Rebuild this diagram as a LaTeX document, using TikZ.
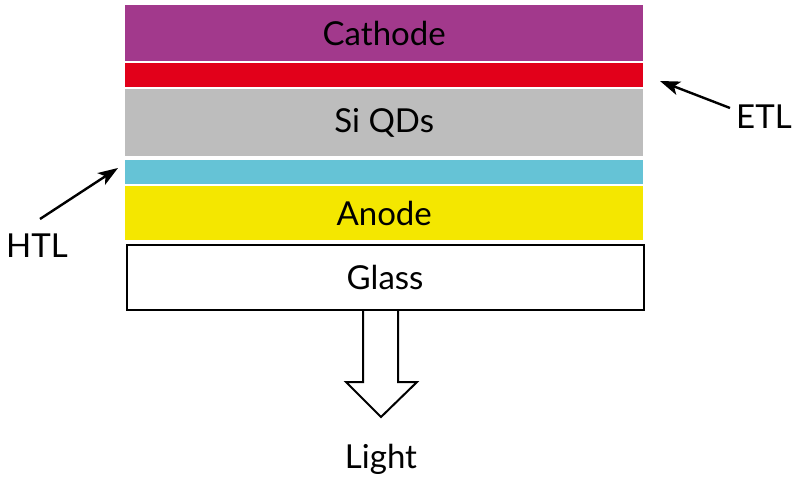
\documentclass[tikz,border=0pt]{standalone}
\usepackage{fontspec}
\setmainfont{Lato}
\usetikzlibrary{arrows.meta}
\definecolor{cathc}{HTML}{A2398C}
\definecolor{etlc}{HTML}{E2001A}
\definecolor{qdc}{HTML}{BDBDBD}
\definecolor{htlc}{HTML}{65C3D6}
\definecolor{anoc}{HTML}{F4E700}
\begin{document}
\begin{tikzpicture}[x=1pt,y=-1pt,
  layer/.style={inner sep=0pt, anchor=north west, font=\fontsize{33}{36}\selectfont},
  lbl/.style={font=\fontsize{33}{36}\selectfont, inner sep=0pt},
  ptr/.style={-{Stealth[length=20pt,width=14pt,inset=5pt]}, line width=2.4pt}]
\useasboundingbox (0,0) rectangle (800,481);
\node[layer, fill=cathc, minimum width=518pt, minimum height=56pt] (cath) at (125,5) {Cathode};
\node[layer, fill=etlc, minimum width=518pt, minimum height=24pt] (etl) at (125,63) {};
\node[layer, fill=qdc, minimum width=518pt, minimum height=67pt] (qd) at (125,89) {Si QDs};
\node[layer, fill=htlc, minimum width=518pt, minimum height=24pt] (htl) at (125,160) {};
\node[layer, fill=anoc, minimum width=518pt, minimum height=54pt] (ano) at (125,186) {Anode};
% hollow arrow (drawn before the glass so the glass border stays continuous)
\draw[line width=2pt, line join=miter, fill=white] (363,307) -- (363,382) -- (346,382) -- (381,417) -- (417,382) -- (398,382) -- (398,307);
\node[layer, draw=black, line width=2.2pt, fill=white, minimum width=517pt, minimum height=65pt] (glass) at (125.5,243.5) {Glass};
\node[lbl] (light) at (381,459) {Light};
\node[lbl, anchor=west] (etltxt) at (736,117) {ETL};
\node[lbl, anchor=west] (htltxt) at (6,246) {HTL};
\coordinate (etltail) at (730,108);
\coordinate (etlhead) at (660,81);
\coordinate (htltail) at (40,219);
\coordinate (htlhead) at (118,168);
\draw[ptr] (etltail) -- (etlhead);
\draw[ptr] (htltail) -- (htlhead);
\end{tikzpicture}
\end{document}
